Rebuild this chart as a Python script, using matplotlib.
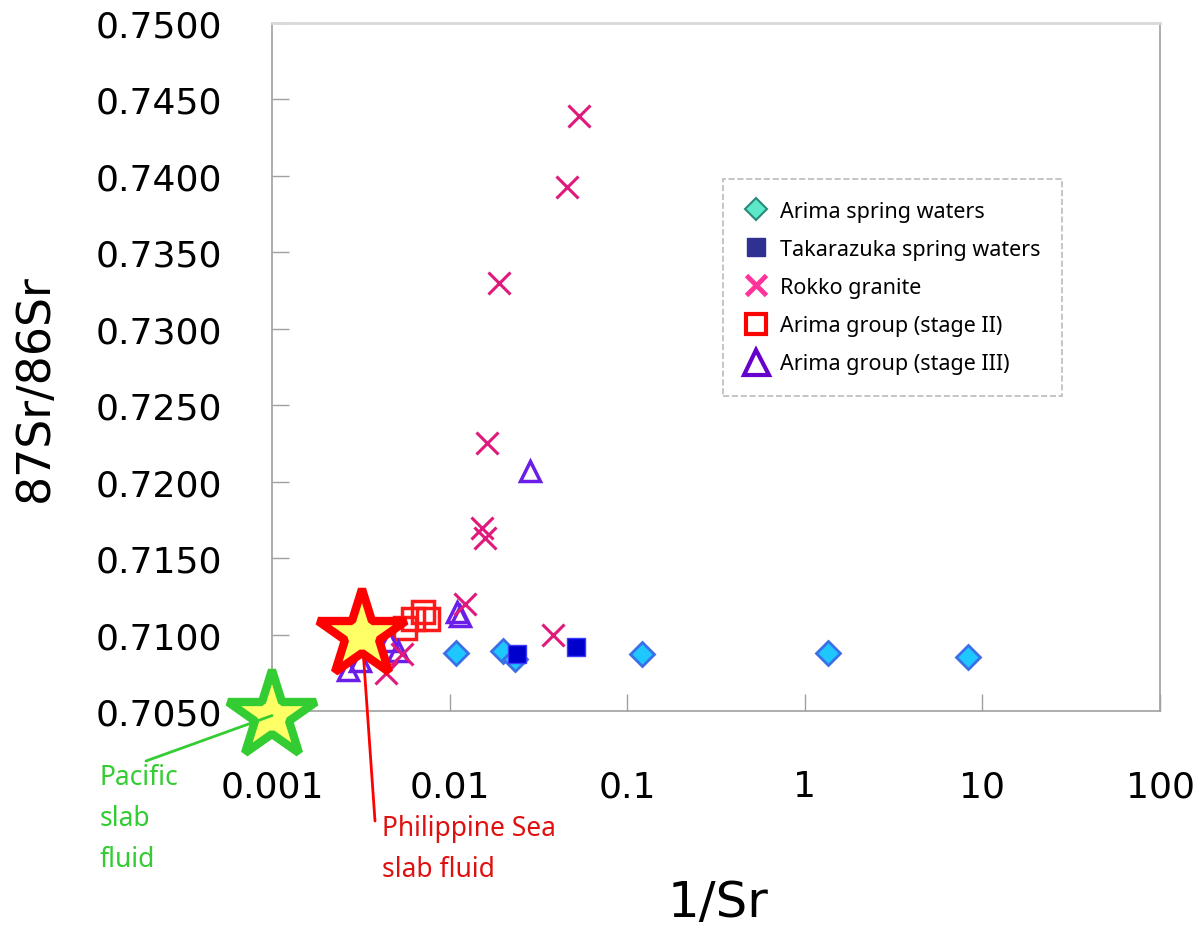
import matplotlib
matplotlib.use('Agg')
import numpy as np
from matplotlib import pyplot as plt
from matplotlib.lines import Line2D

# Arima spring waters
arima_x = [0.0109, 0.0200, 0.0233, 0.121, 1.35, 8.30]
arima_y = [0.7088, 0.7089, 0.7084, 0.7087, 0.7088, 0.7085]
# Takarazuka spring waters
taka_x = [0.0240, 0.0515]
taka_y = [0.7087, 0.7092]
# Rokko granite
rokko_x = [0.0535, 0.0458, 0.0190, 0.0163, 0.0152, 0.0158, 0.0122, 0.0382, 0.0054, 0.0044]
rokko_y = [0.7439, 0.7393, 0.7330, 0.7225, 0.7170, 0.7163, 0.7120, 0.7100, 0.7087, 0.7075]
# Arima group (stage II)
st2_x = [0.00561, 0.00622, 0.00708, 0.00755]
st2_y = [0.7104, 0.7110, 0.7115, 0.7110]
# Arima group (stage III)
st3_x = [0.00268, 0.00313, 0.00456, 0.00512, 0.0110, 0.0115, 0.0284]
st3_y = [0.7077, 0.7083, 0.7096, 0.7089, 0.7115, 0.7112, 0.7207]
# slab fluids
pacific = (0.001, 0.7047)
philippine = (0.00321, 0.7100)

yticks = np.arange(0.7050, 0.75001, 0.005)
xticks = [0.001, 0.01, 0.1, 1, 10, 100]
xlabels = ['0.001', '0.01', '0.1', '1', '10', '100']

fig = plt.figure(figsize=(12, 9.28), dpi=100)
ax = fig.add_axes([272/1200, 1-712/928, 888/1200, 688/928])

ax.plot(arima_x, arima_y, 'D', ms=12, mfc='#1ec8ff', mec='#3a6fe8', mew=2, ls='none', zorder=3)
ax.plot(taka_x, taka_y, 's', ms=13, mfc='#0000cc', mec='#3b3bff', mew=1, ls='none', zorder=4)
ax.plot(st2_x, st2_y, 's', ms=16, mfc='none', mec='#ff1a1a', mew=2.5, ls='none', zorder=5)
ax.plot(st3_x, st3_y, '^', ms=15, mfc='none', mec='#6a1ee8', mew=2.5, ls='none', zorder=5)
ax.plot(rokko_x, rokko_y, 'x', ms=16, mec='#e0197d', mew=2.2, ls='none', zorder=6)

ax.plot(*philippine, '*', ms=66, mfc='#ffff66', mec='#ff0000', mew=6, zorder=8, clip_on=False)
ax.plot(*pacific, '*', ms=66, mfc='#ffff66', mec='#33cc33', mew=6, zorder=8, clip_on=False)

# leader lines and labels of the two slab fluids
ax.annotate('', xy=philippine, xytext=(375, 928-822), textcoords='figure pixels',
            arrowprops=dict(arrowstyle='-', color='#ff0000', lw=2, shrinkA=0, shrinkB=0),
            zorder=7, annotation_clip=False)
ax.annotate('', xy=pacific, xytext=(146, 928-762), textcoords='figure pixels',
            arrowprops=dict(arrowstyle='-', color='#33cc33', lw=2, shrinkA=0, shrinkB=0),
            zorder=9, annotation_clip=False)
fig.text(100/1200, 1-764/928, 'Pacific\nslab\nfluid', color='#33cc33', fontsize=19,
         family='Noto Sans', va='top', ha='left', linespacing=1.62)
fig.text(382/1200, 1-815/928, 'Philippine Sea\nslab fluid', color='#e01010', fontsize=19,
         family='Noto Sans', va='top', ha='left', linespacing=1.62)

ax.set_xscale('log')
ax.set_xlim(0.001, 100)
ax.set_ylim(0.7050, 0.7500)
ax.set_xticks(xticks)
ax.set_xticklabels(xlabels)
ax.xaxis.set_minor_locator(matplotlib.ticker.NullLocator())
ax.set_yticks(yticks)
ax.set_yticklabels(['%.4f' % v for v in yticks])
ax.tick_params(axis='both', direction='in', length=12, width=1, color='#a0a0a0', labelsize=26)
ax.tick_params(axis='y', pad=36)
ax.tick_params(axis='x', pad=42)

for side in ['left', 'right', 'bottom']:
    ax.spines[side].set_color('#a0a0a0')
    ax.spines[side].set_linewidth(1.2)
ax.spines['top'].set_color('#d8d8d8')
ax.spines['top'].set_linewidth(2)

ax.set_xlabel('1/Sr', fontsize=36, va='center')
ax.xaxis.set_label_coords((718-272)/888, (712-903)/688)
ax.set_ylabel('87Sr/86Sr', fontsize=33, va='center')
ax.yaxis.set_label_coords((35-272)/888, (712-388)/688)

handles = [
    Line2D([], [], ls='none', marker='D', ms=11, mfc='#5de8c8', mec='#2a8a7a', mew=1.5),
    Line2D([], [], ls='none', marker='s', ms=13, mfc='#2e3192', mec='#2e3192'),
    Line2D([], [], ls='none', marker='x', ms=14, mec='#ff3399', mew=3.5),
    Line2D([], [], ls='none', marker='s', ms=15, mfc='white', mec='#ff0000', mew=3),
    Line2D([], [], ls='none', marker='^', ms=18, mfc='white', mec='#6600cc', mew=3),
]
labels = ['Arima spring waters', 'Takarazuka spring waters', 'Rokko granite',
          'Arima group (stage II)', 'Arima group (stage III)']
leg = ax.legend(handles, labels, loc='upper left', bbox_to_anchor=((723-272)/888, (712-180)/688),
                prop={'family': 'Noto Sans', 'size': 15.5}, frameon=True, fancybox=False,
                borderpad=1.0, labelspacing=0.8, handletextpad=0.55, handlelength=1.1,
                borderaxespad=0)
frame = leg.get_frame()
frame.set_linestyle('--')
frame.set_edgecolor('#aaaaaa')
frame.set_linewidth(1.2)

fig.savefig('out.png', dpi=100)
